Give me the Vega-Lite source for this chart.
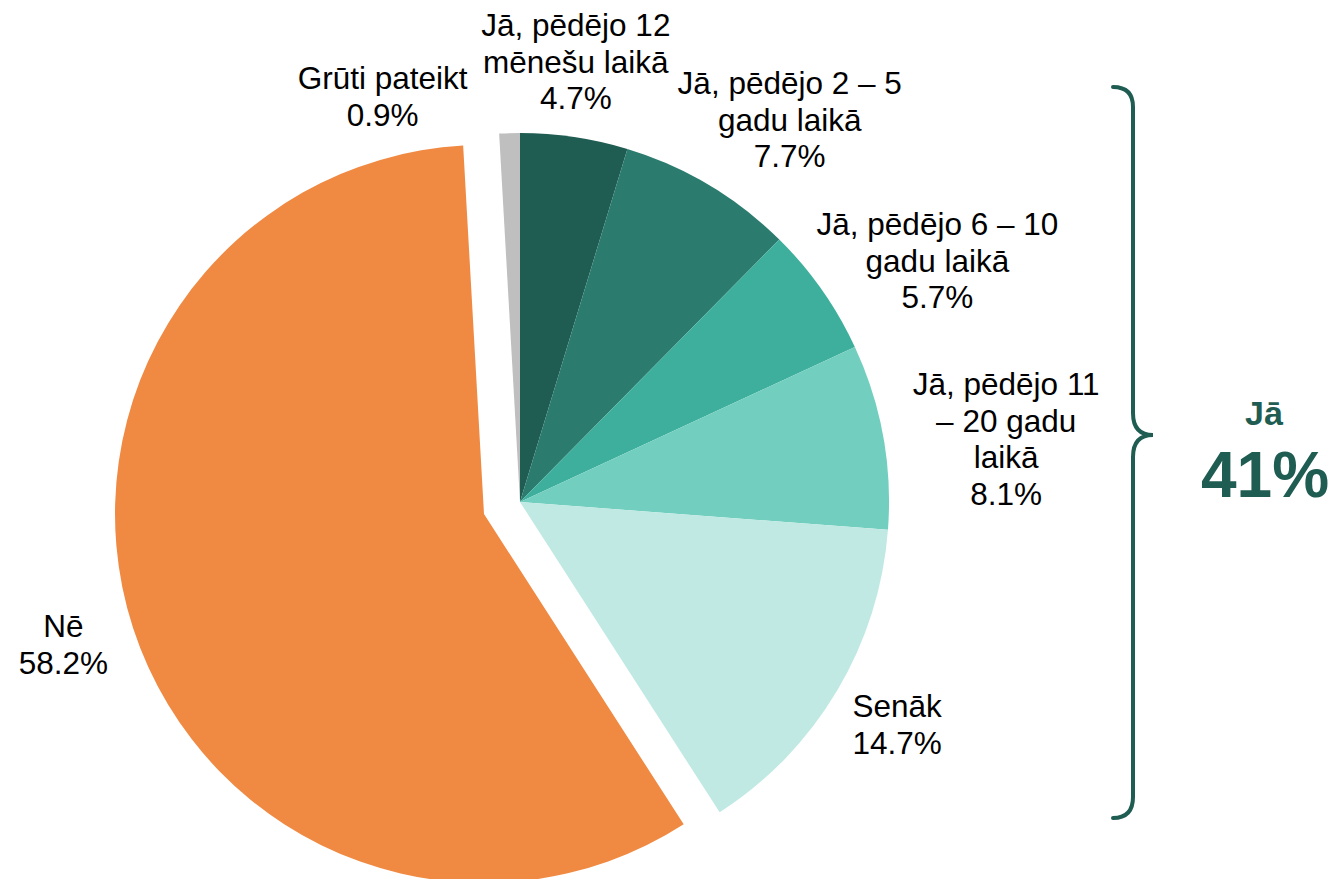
{
  "$schema": "https://vega.github.io/schema/vega-lite/v6.json",
  "width": 700,
  "height": 700,
  "autosize": {"type": "none"},
  "padding": {"left": 170, "top": 152, "right": 464, "bottom": 27},
  "background": "white",
  "config": {"view": {"stroke": null}, "text": {"font": "Liberation Sans"}},
  "layer": [
    {
      "data": {
        "values": [
          {"cat": "Jā, pēdējo 12 mēnešu laikā", "label": "Jā, pēdējo 12\nmēnešu laikā\n4.7%", "value": 4.7, "ord": 1},
          {"cat": "Jā, pēdējo 2 – 5 gadu laikā", "label": "Jā, pēdējo 2 – 5\ngadu laikā\n7.7%", "value": 7.7, "ord": 2},
          {"cat": "Jā, pēdējo 6 – 10 gadu laikā", "label": "Jā, pēdējo 6 – 10\ngadu laikā\n5.7%", "value": 5.7, "ord": 3},
          {"cat": "Jā, pēdējo 11 – 20 gadu laikā", "label": "Jā, pēdējo 11\n– 20 gadu\nlaikā\n8.1%", "value": 8.1, "ord": 4},
          {"cat": "Senāk", "label": "Senāk\n14.7%", "value": 14.7, "ord": 5},
          {"cat": "Nē", "label": "Nē\n58.2%", "value": 58.2, "ord": 6},
          {"cat": "Grūti pateikt", "label": "Grūti pateikt\n0.9%", "value": 0.9, "ord": 7}
        ]
      },
      "encoding": {
        "theta": {"field": "value", "type": "quantitative", "stack": true},
        "order": {"field": "ord", "type": "quantitative", "sort": "ascending"},
        "detail": {"field": "cat", "type": "nominal"},
        "color": {
          "field": "cat",
          "type": "nominal",
          "scale": {
            "domain": ["Jā, pēdējo 12 mēnešu laikā", "Jā, pēdējo 2 – 5 gadu laikā", "Jā, pēdējo 6 – 10 gadu laikā", "Jā, pēdējo 11 – 20 gadu laikā", "Senāk", "Nē", "Grūti pateikt"],
            "range": ["#1f5c52", "#2b7b6e", "#3daf9c", "#72cfc0", "#bfe9e2", "#f08a43", "#bfbfbf"]
          },
          "legend": null
        }
      },
      "layer": [
        {
          "mark": {"type": "arc", "radius": 369},
          "encoding": {"opacity": {"condition": {"test": "datum.ord === 6", "value": 0}, "value": 1}}
        },
        {
          "mark": {"type": "arc", "radius": 369, "xOffset": -36, "yOffset": 12},
          "encoding": {"opacity": {"condition": {"test": "datum.ord === 6", "value": 1}, "value": 0}}
        },
        {
          "mark": {"type": "text", "radius": 442, "thetaOffset": -0.021, "dy": -36.5, "fontSize": 31.5, "lineHeight": 36.5, "lineBreak": "\n", "align": "center", "baseline": "middle", "font": "Liberation Sans"},
          "encoding": {"color": {"value": "#000000"}, "text": {"condition": {"test": "datum.ord === 1", "field": "label"}, "value": ""}}
        },
        {
          "mark": {"type": "text", "radius": 466, "thetaOffset": 0.080, "dy": -36.5, "fontSize": 31.5, "lineHeight": 36.5, "lineBreak": "\n", "align": "center", "baseline": "middle", "font": "Liberation Sans"},
          "encoding": {"color": {"value": "#000000"}, "text": {"condition": {"test": "datum.ord === 2", "field": "label"}, "value": ""}}
        },
        {
          "mark": {"type": "text", "radius": 481, "thetaOffset": 0.0925, "dy": -36.5, "fontSize": 31.5, "lineHeight": 36.5, "lineBreak": "\n", "align": "center", "baseline": "middle", "font": "Liberation Sans"},
          "encoding": {"color": {"value": "#000000"}, "text": {"condition": {"test": "datum.ord === 3", "field": "label"}, "value": ""}}
        },
        {
          "mark": {"type": "text", "radius": 490, "thetaOffset": 0.054, "dy": -54.75, "fontSize": 31.5, "lineHeight": 36.5, "lineBreak": "\n", "align": "center", "baseline": "middle", "font": "Liberation Sans"},
          "encoding": {"color": {"value": "#000000"}, "text": {"condition": {"test": "datum.ord === 4", "field": "label"}, "value": ""}}
        },
        {
          "mark": {"type": "text", "radius": 439, "thetaOffset": 0, "dy": -18.25, "fontSize": 31.5, "lineHeight": 36.5, "lineBreak": "\n", "align": "center", "baseline": "middle", "font": "Liberation Sans"},
          "encoding": {"color": {"value": "#000000"}, "text": {"condition": {"test": "datum.ord === 5", "field": "label"}, "value": ""}}
        },
        {
          "mark": {"type": "text", "radius": 441, "thetaOffset": 0.009, "xOffset": -36, "yOffset": 12, "dy": -18.25, "fontSize": 31.5, "lineHeight": 36.5, "lineBreak": "\n", "align": "center", "baseline": "middle", "font": "Liberation Sans"},
          "encoding": {"color": {"value": "#000000"}, "text": {"condition": {"test": "datum.ord === 6", "field": "label"}, "value": ""}}
        },
        {
          "mark": {"type": "text", "radius": 426, "thetaOffset": -0.300, "dy": -18.25, "fontSize": 31.5, "lineHeight": 36.5, "lineBreak": "\n", "align": "center", "baseline": "middle", "font": "Liberation Sans"},
          "encoding": {"color": {"value": "#000000"}, "text": {"condition": {"test": "datum.ord === 7", "field": "label"}, "value": ""}}
        }
      ]
    },
    {
      "data": {"values": [{"group": "Jā", "total": "41%"}]},
      "layer": [
        {
          "mark": {
            "type": "point",
            "shape": "M-0.05,-0.9125Q0,-0.9125,0,-0.8625L0,-0.0975Q0,-0.0425,0.05,-0.0425Q0,-0.0425,0,0.0125L0,0.8625Q0,0.915,-0.05,0.915",
            "size": 640000,
            "filled": false,
            "stroke": "#1f5c52",
            "strokeWidth": 4,
            "strokeCap": "round",
            "opacity": 1,
            "xOffset": 613,
            "yOffset": -50
          },
          "encoding": {}
        },
        {
          "mark": {"type": "text", "fontSize": 34, "fontWeight": "bold", "color": "#1f5c52", "dx": 744, "dy": -87, "align": "center", "baseline": "middle", "font": "Liberation Sans"},
          "encoding": {"text": {"field": "group"}}
        },
        {
          "mark": {"type": "text", "fontSize": 64, "fontWeight": "bold", "color": "#1f5c52", "dx": 745, "dy": -24, "align": "center", "baseline": "middle", "font": "Liberation Sans"},
          "encoding": {"text": {"field": "total"}}
        }
      ]
    }
  ]
}
